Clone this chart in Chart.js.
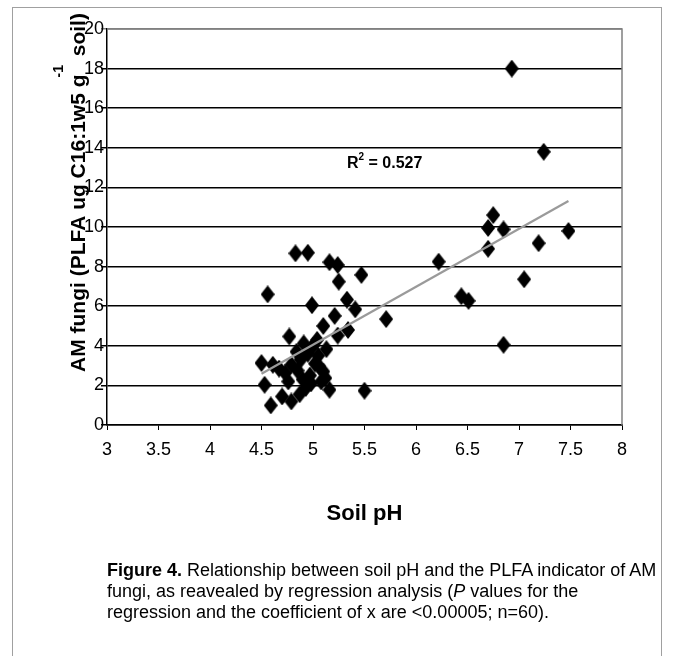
<!DOCTYPE html>
<html>
<head>
<meta charset="utf-8">
<script src="https://cdn.jsdelivr.net/npm/chart.js@4/dist/chart.umd.min.js"></script>
<style>
  html, body { margin: 0; padding: 0; background: #fff; overflow: hidden; }
  body { width: 674px; height: 656px; position: relative; font-family: "Liberation Sans", Arial, sans-serif; }
  #frame { position: absolute; left: 12px; top: 7px; width: 650px; height: 720px; border: 1px solid #a0a0a0; box-sizing: border-box; }
  #wrap { position: absolute; left: 0; top: 0; width: 674px; height: 656px; }
  #caption { position: absolute; left: 107px; top: 560px; font-size: 18px; line-height: 21px; color: #000; white-space: nowrap; }
</style>
</head>
<body>
<div id="frame"></div>
<div id="wrap"><canvas id="chart" width="674" height="656"></canvas></div>
<div id="caption"><b>Figure 4.</b> Relationship between soil pH and the PLFA indicator of AM<br>fungi, as reavealed by regression analysis (<i>P</i> values for the<br>regression and the coefficient of x are &lt;0.00005; n=60).</div>

<script>
// Dados (pH do solo x indicador PLFA de fungos AM)
const soilPH = [
  6.93, 7.24, 6.75, 6.70, 6.85, 6.70, 7.19, 7.48, 7.05, 6.44,
  6.51, 6.85, 6.22, 5.71, 5.50, 5.47, 4.56, 4.83, 4.95, 5.16,
  5.24, 5.25, 4.99, 5.33, 5.41, 5.21, 5.10, 5.34, 5.24, 4.77,
  4.91, 5.13, 5.06, 5.12, 5.16, 4.93, 4.50, 4.61, 4.53, 4.59,
  4.70, 4.79, 4.76, 4.79, 4.73, 4.85, 4.88, 4.95, 4.97, 5.02,
  5.05, 5.08, 4.90, 5.00, 4.84, 5.10, 4.67, 4.98, 5.04, 4.87
];
const amFungi = [
  18.0, 13.8, 10.6, 9.95, 9.88, 8.90, 9.18, 9.80, 7.36, 6.50,
  6.27, 4.05, 8.25, 5.35, 1.73, 7.58, 6.60, 8.67, 8.70, 8.22,
  8.08, 7.24, 6.05, 6.33, 5.84, 5.51, 5.00, 4.80, 4.52, 4.47,
  4.12, 3.83, 2.96, 2.37, 1.78, 1.87, 3.13, 3.04, 2.03, 0.99,
  1.44, 1.19, 2.20, 3.04, 2.62, 2.75, 3.30, 3.60, 2.50, 3.10,
  3.50, 2.20, 2.30, 4.00, 3.70, 2.70, 2.85, 2.10, 4.30, 1.55
];
// Linha de tendência (extremos)
const trendPH = [4.50, 7.48];
const trendAM = [2.59, 11.31];
const rSquaredLabel = '0.527';

// Eixos
const xTicks = [3, 3.5, 4, 4.5, 5, 5.5, 6, 6.5, 7, 7.5, 8];
const yTicks = [0, 2, 4, 6, 8, 10, 12, 14, 16, 18, 20];

const FONT = '"Liberation Sans", Arial, sans-serif';

// Marcador losango (um pouco mais alto que largo, como na figura)
function criarLosango(w, h) {
  const c = document.createElement('canvas');
  c.width = w; c.height = h;
  const g = c.getContext('2d');
  g.fillStyle = '#000';
  g.beginPath();
  g.moveTo(w / 2, 0);
  g.lineTo(w, h / 2);
  g.lineTo(w / 2, h);
  g.lineTo(0, h / 2);
  g.closePath();
  g.fill();
  return c;
}

// Textos extras: título do eixo Y com sobrescrito, R², borda da área
const extrasPlugin = {
  id: 'extras',
  afterDraw(chart) {
    const ctx = chart.ctx;
    const area = chart.chartArea;
    const xs = chart.scales.x, ys = chart.scales.y;
    ctx.save();

    // borda cinza (topo e direita da área de plotagem)
    ctx.strokeStyle = '#808080';
    ctx.lineWidth = 1.5;
    ctx.beginPath();
    ctx.moveTo(area.left, area.top);
    ctx.lineTo(area.right, area.top);
    ctx.lineTo(area.right, area.bottom);
    ctx.stroke();

    // R²
    const rx = xs.getPixelForValue(5.33);
    const ry = ys.getPixelForValue(12.97);
    ctx.fillStyle = '#000';
    ctx.textBaseline = 'alphabetic';
    ctx.textAlign = 'left';
    ctx.font = 'bold 16px ' + FONT;
    ctx.fillText('R', rx, ry);
    let off = ctx.measureText('R').width;
    ctx.font = 'bold 10px ' + FONT;
    ctx.fillText('2', rx + off, ry - 8);
    off += ctx.measureText('2').width;
    ctx.font = 'bold 16px ' + FONT;
    ctx.fillText(' = ' + rSquaredLabel, rx + off, ry);

    // título do eixo Y (girado)
    ctx.translate(85, 372);
    ctx.rotate(-Math.PI / 2);
    ctx.font = 'bold 21px ' + FONT;
    const parte1 = 'AM fungi (PLFA ug C16:1w5 g';
    ctx.fillText(parte1, 0, 0);
    const w1 = ctx.measureText(parte1).width;
    ctx.font = 'bold 14px ' + FONT;
    ctx.fillText('-1', w1 - 3, -22);
    const wSup = ctx.measureText('-1').width;
    ctx.font = 'bold 21px ' + FONT;
    ctx.fillText(' soil)', w1 + wSup, 0);

    ctx.restore();
  }
};

function montarGrafico() {
  const ctx = document.getElementById('chart').getContext('2d');
  const pontos = soilPH.map((ph, i) => ({ x: ph, y: amFungi[i] }));
  const tendencia = trendPH.map((ph, i) => ({ x: ph, y: trendAM[i] }));

  new Chart(ctx, {
    type: 'scatter',
    data: {
      datasets: [
        {
          label: 'Linear',
          data: tendencia,
          showLine: true,
          borderColor: '#9a9a9a',
          borderWidth: 2.2,
          pointRadius: 0,
          fill: false
        },
        {
          label: 'AM fungi',
          data: pontos,
          pointStyle: criarLosango(14, 18),
          pointRadius: 8,
          backgroundColor: '#000',
          borderColor: '#000'
        }
      ]
    },
    options: {
      responsive: false,
      animation: false,
      devicePixelRatio: 1,
      layout: { padding: { top: 29, right: 52, bottom: 131, left: 0 } },
      plugins: {
        legend: { display: false },
        tooltip: { enabled: false }
      },
      scales: {
        x: {
          type: 'linear',
          min: 3,
          max: 8,
          afterBuildTicks: (scale) => { scale.ticks = xTicks.map(v => ({ value: v })); },
          afterFit: (scale) => { scale.height = 100; },
          border: { display: true, color: '#000', width: 1.5 },
          grid: { display: true, drawOnChartArea: false, drawTicks: true, tickLength: 5, color: '#000', lineWidth: 1 },
          ticks: {
            color: '#000',
            padding: 9,
            maxRotation: 0,
            font: { family: FONT, size: 18 },
            callback: (v) => String(v)
          },
          title: {
            display: true,
            text: 'Soil pH',
            color: '#000',
            font: { family: FONT, size: 22, weight: 'bold', lineHeight: 1 },
            padding: { top: 0, bottom: 0 }
          }
        },
        y: {
          type: 'linear',
          min: 0,
          max: 20,
          afterBuildTicks: (scale) => { scale.ticks = yTicks.map(v => ({ value: v })); },
          afterFit: (scale) => { scale.width = 107; },
          border: { display: true, color: '#000', width: 1.5 },
          grid: {
            color: (c) => (c.tick && c.tick.value === 20 ? '#808080' : '#000'),
            lineWidth: 1.5,
            drawTicks: true,
            tickLength: 6
          },
          ticks: { color: '#000', padding: -3, font: { family: FONT, size: 18 }, callback: (v) => String(v) }
        }
      }
    },
    plugins: [extrasPlugin]
  });
}

document.addEventListener('DOMContentLoaded', montarGrafico);
</script>
</body>
</html>
